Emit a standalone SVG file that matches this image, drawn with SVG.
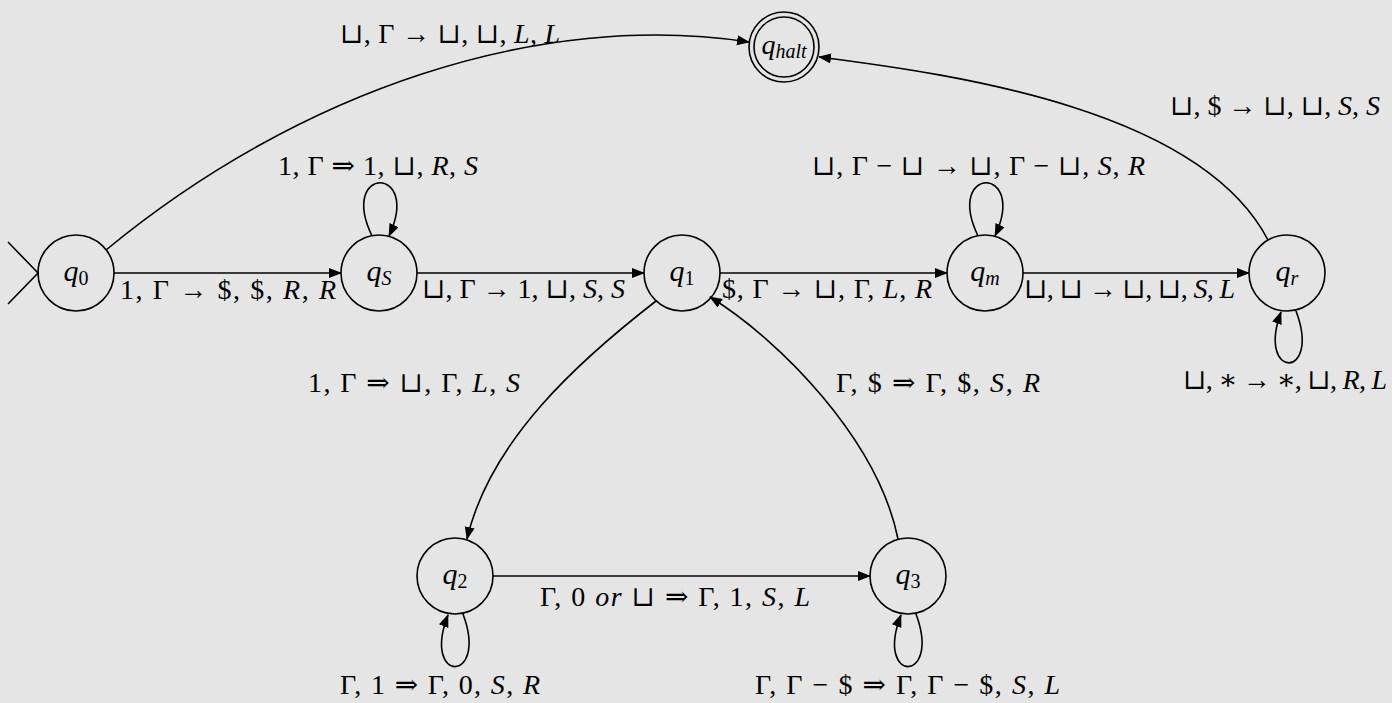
<svg xmlns="http://www.w3.org/2000/svg" width="1392" height="703" viewBox="0 0 1392 703">
  <defs>
    <marker id="arr" markerUnits="userSpaceOnUse" markerWidth="14" markerHeight="12" refX="12" refY="5" orient="auto">
      <path d="M0,0 L13,5 L0,10 z" fill="#000"/>
    </marker>
    <style>
      .st circle { fill: none; stroke: #000; stroke-width: 1.6; }
      .edge { fill: none; stroke: #000; stroke-width: 1.6; marker-end: url(#arr); }
      .plain { fill: none; stroke: #000; stroke-width: 1.6; }
      text { font-family: "Liberation Serif", "DejaVu Serif", serif; font-size: 28px; fill: #000; }
      .nm { font-size: 30px; }
      .i { font-style: italic; }
      .sub { font-size: 20px; }
    </style>
  </defs>
  <rect width="1392" height="703" fill="#e5e5e5"/>

  <!-- states -->
  <g id="q0" class="st">
    <circle cx="76" cy="273" r="38"/>
    <path class="plain" d="M8,242 L38,273 L8,304"/>
    <text class="nm" x="76" y="281" text-anchor="middle"><tspan class="i">q</tspan><tspan class="sub" dy="4">0</tspan></text>
  </g>
  <g id="qS" class="st">
    <circle cx="379" cy="273" r="38"/>
    <text class="nm" x="379" y="281" text-anchor="middle"><tspan class="i">q</tspan><tspan class="sub i" dy="4">S</tspan></text>
  </g>
  <g id="q1" class="st">
    <circle cx="682" cy="273" r="38"/>
    <text class="nm" x="682" y="281" text-anchor="middle"><tspan class="i">q</tspan><tspan class="sub" dy="4">1</tspan></text>
  </g>
  <g id="qm" class="st">
    <circle cx="985" cy="273" r="38"/>
    <text class="nm" x="985" y="281" text-anchor="middle"><tspan class="i">q</tspan><tspan class="sub i" dy="4">m</tspan></text>
  </g>
  <g id="qr" class="st">
    <circle cx="1287" cy="273" r="38"/>
    <text class="nm" x="1287" y="281" text-anchor="middle"><tspan class="i">q</tspan><tspan class="sub i" dy="4">r</tspan></text>
  </g>
  <g id="qhalt" class="st">
    <circle cx="784" cy="47" r="35"/>
    <circle cx="784" cy="47" r="30"/>
    <text x="784" y="54" text-anchor="middle"><tspan class="i">q</tspan><tspan class="i" font-size="20" dy="4">halt</tspan></text>
  </g>
  <g id="q2" class="st">
    <circle cx="455" cy="576" r="38"/>
    <text class="nm" x="455" y="584" text-anchor="middle"><tspan class="i">q</tspan><tspan class="sub" dy="4">2</tspan></text>
  </g>
  <g id="q3" class="st">
    <circle cx="908" cy="576" r="38"/>
    <text class="nm" x="908" y="584" text-anchor="middle"><tspan class="i">q</tspan><tspan class="sub" dy="4">3</tspan></text>
  </g>

  <!-- transitions -->
  <g id="connectors">
    <path class="edge" d="M114,273 L341,273"/>
    <path class="edge" d="M417,273 L644,273"/>
    <path class="edge" d="M720,273 L947,273"/>
    <path class="edge" d="M1023,273 L1249,273"/>
    <path class="edge" d="M493,576 L870,576"/>
    <path class="edge" d="M106,250 C300,90 540,10 749,42"/>
    <path class="edge" d="M1268,240 C1200,110 960,75 819,57"/>
    <path class="edge" d="M656,301 C580,360 490,440 467,539"/>
    <path class="edge" d="M898,539 C878,440 780,340 710,297"/>
    <!-- self loops -->
    <path class="edge" d="M372,236 C338,165 422,165 389,236"/>
    <path class="edge" d="M978,236 C944,165 1028,165 995,236"/>
    <path class="edge" d="M1296,311 C1322,380 1256,380 1281,312"/>
    <path class="edge" d="M463,614 C489,684 421,684 448,615"/>
    <path class="edge" d="M916,614 C942,684 874,684 901,615"/>
  </g>

  <!-- transition labels -->
  <g id="labels">
    <text x="340" y="43" textLength="220" lengthAdjust="spacing">⊔, Γ → ⊔, ⊔, <tspan class="i">L</tspan>, <tspan class="i">L</tspan></text>
    <text x="278" y="175" textLength="200" lengthAdjust="spacing">1, Γ ⇒ 1, ⊔, <tspan class="i">R</tspan>, <tspan class="i">S</tspan></text>
    <text x="812" y="175" textLength="333" lengthAdjust="spacing">⊔, Γ − ⊔ → ⊔, Γ − ⊔, <tspan class="i">S</tspan>, <tspan class="i">R</tspan></text>
    <text x="1170" y="115" textLength="210" lengthAdjust="spacing">⊔, $ → ⊔, ⊔, <tspan class="i">S</tspan>, <tspan class="i">S</tspan></text>
    <text x="120" y="299" textLength="216" lengthAdjust="spacing">1, Γ → $, $, <tspan class="i">R</tspan>, <tspan class="i">R</tspan></text>
    <text x="422" y="298" textLength="203" lengthAdjust="spacing">⊔, Γ → 1, ⊔, <tspan class="i">S</tspan>, <tspan class="i">S</tspan></text>
    <text x="722" y="298" textLength="210" lengthAdjust="spacing">$, Γ → ⊔, Γ, <tspan class="i">L</tspan>, <tspan class="i">R</tspan></text>
    <text x="1024" y="298" textLength="211" lengthAdjust="spacing">⊔, ⊔ → ⊔, ⊔, <tspan class="i">S</tspan>, <tspan class="i">L</tspan></text>
    <text x="1183" y="389" textLength="204" lengthAdjust="spacing">⊔, ∗ → ∗, ⊔, <tspan class="i">R</tspan>, <tspan class="i">L</tspan></text>
    <text x="308" y="392" textLength="212" lengthAdjust="spacing">1, Γ ⇒ ⊔, Γ, <tspan class="i">L</tspan>, <tspan class="i">S</tspan></text>
    <text x="836" y="392" textLength="204" lengthAdjust="spacing">Γ, $ ⇒ Γ, $, <tspan class="i">S</tspan>, <tspan class="i">R</tspan></text>
    <text x="540" y="606" textLength="270" lengthAdjust="spacing">Γ, 0 <tspan class="i">or</tspan> ⊔ ⇒ Γ, 1, <tspan class="i">S</tspan>, <tspan class="i">L</tspan></text>
    <text x="340" y="694" textLength="200" lengthAdjust="spacing">Γ, 1 ⇒ Γ, 0, <tspan class="i">S</tspan>, <tspan class="i">R</tspan></text>
    <text x="755" y="694" textLength="305" lengthAdjust="spacing">Γ, Γ − $ ⇒ Γ, Γ − $, <tspan class="i">S</tspan>, <tspan class="i">L</tspan></text>
  </g>
</svg>
